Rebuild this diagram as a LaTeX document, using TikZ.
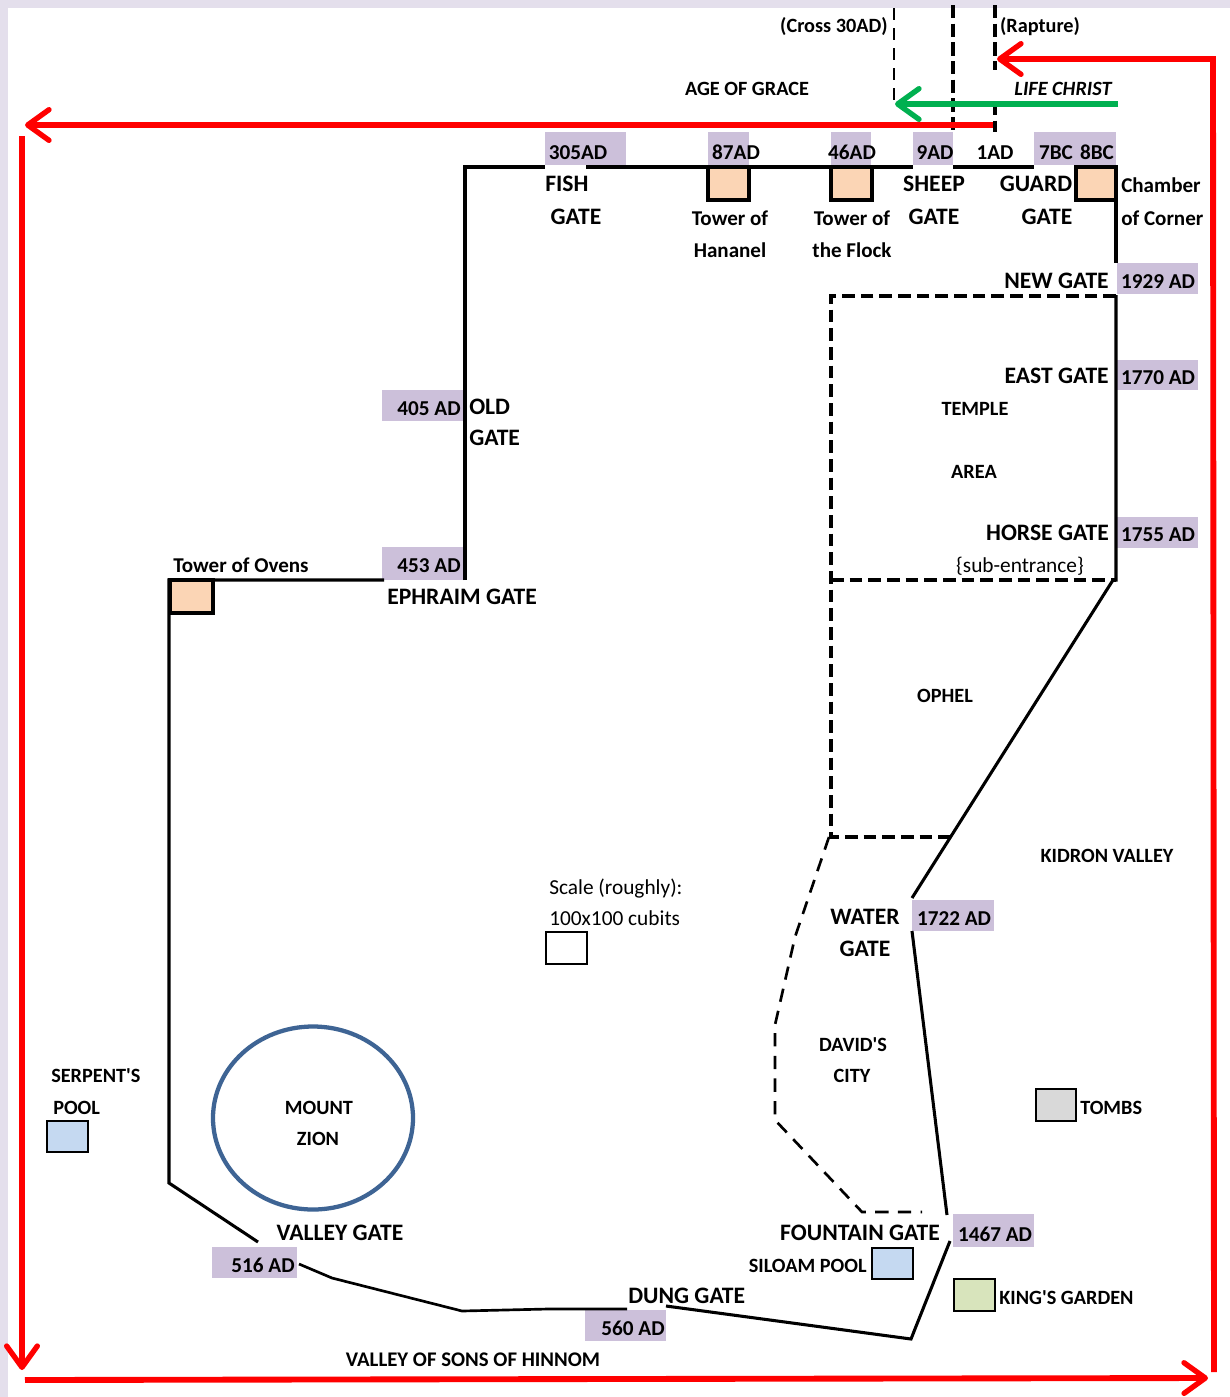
\documentclass[tikz,border=0pt]{standalone}
\usepackage{fontspec}
\setmainfont[Ligatures=TeXOff]{Carlito}
\usetikzlibrary{arrows.meta}
\definecolor{lav}{HTML}{CCC0DA}
\definecolor{edge}{HTML}{E4DFEC}
\definecolor{tan}{HTML}{FBD5B5}
\definecolor{pool}{HTML}{C5D9F1}
\definecolor{garden}{HTML}{D8E4BC}
\definecolor{tomb}{HTML}{D9D9D9}
\definecolor{mount}{HTML}{3E6494}
\definecolor{grn}{HTML}{00B050}
\tikzset{
  wall/.style={black,line width=2.3pt,line join=miter},
  thinwall/.style={black,line width=2pt},
  dash wall/.style={black,line width=2.4pt,dash pattern=on 9.5pt off 4.5pt},
  dash thin/.style={black,line width=2pt,dash pattern=on 10pt off 7pt},
  red run/.style={red,line width=4.4pt,line join=miter},
  barb/.style={-{Straight Barb[length=16pt,width=23pt,line width=4pt,round]}},
  gatebox/.style={fill=lav,draw=none},
  txt/.style={text=black,inner sep=0pt,yshift=-2.4pt},
  big/.style={txt,font=\bfseries\fontsize{17.7}{18}\selectfont},
  med/.style={txt,font=\bfseries\fontsize{15.9}{16}\selectfont},
  small/.style={txt,font=\bfseries\fontsize{15.2}{16}\selectfont},
  tname/.style={txt,font=\bfseries\fontsize{15.8}{16}\selectfont},
  plain/.style={txt,font=\fontsize{16}{16}\selectfont},
  towerbox/.style={fill=tan,draw=black,line width=2.6pt},
  markbox/.style={draw=black,line width=1.5pt},
}
\begin{document}
\begin{tikzpicture}[x=0.75pt,y=-0.75pt]
\useasboundingbox (0,0) rectangle (1230,1397);
\fill[edge] (0,0) rectangle (1230,1397);
\fill[white] (8,8) rectangle (1230,1397);
% gate boxes
\foreach \a/\b/\c/\d in {545/132/626/165,708/132/749/165,831/132/871/165,913/132/953/165,1034/132/1116/165,
  1117/263/1198/294,1117/360/1198/390,1117/517/1198/548,382/390/464/421,382/547/464/580,
  912/900/994/931,953/1214/1034/1247,585/1310/666/1341,212/1247/297/1278}
  \fill[gatebox] (\a,\b) rectangle (\c,\d);
% walls
\draw[wall] (384,580) -- (169,580) -- (169,1183) -- (258,1242);
\draw[wall] (465,580) -- (465,167) -- (545,167);
\draw[wall] (586,167) -- (913,167);
\draw[wall] (953,167) -- (1034,167);
\draw[wall] (1116,200) -- (1116,263);
\draw[wall] (1116,295) -- (1116,580) -- (1113,580) -- (912,898);
\draw[wall] (912,931) -- (947,1215);
\draw[wall] (950,1241) -- (911,1339) -- (666,1306);
\draw[thinwall] (627,1309) -- (548,1309) -- (462,1311) -- (332,1278) -- (299,1264);
% towers
\draw[towerbox] (708,167) rectangle (749,200);
\draw[towerbox] (831,167) rectangle (872,200);
\draw[towerbox] (1076,167) rectangle (1116,200);
\draw[towerbox] (170,580) rectangle (213,613);
% dashed
\draw[dash wall] (1116,296) -- (831,296) -- (831,837) -- (953,837);
\draw[dash wall] (831,580) -- (1116,580);
\draw[dash thin] (829,837) -- (795,937) -- (775,1025) -- (775,1120) -- (862,1212) -- (922,1212);
\draw[black,line width=2.2pt,dash pattern=on 9pt off 6pt] (894,8) -- (894,104);
\draw[black,line width=3pt,dash pattern=on 10pt off 4pt] (953,5) -- (953,132);
\draw[black,line width=2.8pt,dash pattern=on 10pt off 4pt] (995,5) -- (995,70);
\draw[black,line width=2.8pt,dash pattern=on 10pt off 4pt] (995,102) -- (995,132);
% small boxes
\draw[markbox,fill=white] (546,932) rectangle (587,964);
\draw[markbox,fill=pool] (47,1121) rectangle (88,1152);
\draw[markbox,fill=pool] (872,1248) rectangle (913,1279);
\draw[markbox,fill=garden] (954,1279) rectangle (995,1311);
\draw[markbox,fill=tomb] (1036,1089) rectangle (1076,1121);
% circle
\draw[mount,line width=3.2pt] (313,1118) ellipse [x radius=100,y radius=91.5];
% red and green runs
\coordinate (rA) at (1214,1372); \coordinate (rB) at (1213,59); \coordinate (rC) at (997,59);
\draw[red run,barb] (rA) -- (rB) -- (rC);
\coordinate (rD) at (993,125); \coordinate (rE) at (25,125);
\draw[red run,barb] (rD) -- (rE);
\coordinate (rF) at (22,136); \coordinate (rG) at (22,1370);
\draw[red run,barb] (rF) -- (rG);
\coordinate (rH) at (25,1380); \coordinate (rI) at (1208,1378);
\draw[red run,barb] (rH) -- (rI);
\coordinate (gA) at (1118,104); \coordinate (gB) at (895,104);
\draw[grn,line width=4.4pt,barb] (gA) -- (gB);
% dates
\node[med,anchor=mid] (d305) at (578,153) {305AD};
\node[med,anchor=mid] (d87) at (736,153) {87AD};
\node[med,anchor=mid] (d46) at (852,153) {46AD};
\node[med,anchor=mid] (d9) at (935,153) {9AD};
\node[med,anchor=mid] (d1) at (995,153) {1AD};
\node[med,anchor=mid] (d7) at (1056,153) {7BC};
\node[med,anchor=mid] (d8) at (1097,153) {8BC};
\node[med,anchor=mid] (d1929) at (1158,282) {1929 AD};
\node[med,anchor=mid] (d1770) at (1158,378) {1770 AD};
\node[med,anchor=mid] (d1755) at (1158,535) {1755 AD};
\node[med,anchor=mid] (d405) at (429,409) {405 AD};
\node[med,anchor=mid] (d453) at (429,566) {453 AD};
\node[med,anchor=mid] (d1722) at (954,919) {1722 AD};
\node[med,anchor=mid] (d1467) at (995,1235) {1467 AD};
\node[med,anchor=mid] (d560) at (633,1329) {560 AD};
\node[med,anchor=mid] (d516) at (263,1266) {516 AD};
% top labels
\node[small,anchor=mid] (tCross) at (834,26) {(Cross 30AD)};
\node[small,anchor=mid] (tRapt) at (1040,26) {(Rapture)};
\node[small,anchor=mid] (tAge) at (747,89) {AGE OF GRACE};
\node[small,anchor=mid,font=\bfseries\itshape\fontsize{15.2}{16}\selectfont] (tLife) at (1063,89) {LIFE CHRIST};
% gate names
\node[big,anchor=mid west] (nFish1) at (545,185) {FISH};
\node[big,anchor=mid] (nFish2) at (576,218) {GATE};
\node[big,anchor=mid] (nSheep1) at (934,185) {SHEEP};
\node[big,anchor=mid] (nSheep2) at (934,218) {GATE};
\node[big,anchor=mid] (nGuard1) at (1036,185) {GUARD};
\node[big,anchor=mid] (nGuard2) at (1047,218) {GATE};
\node[big,anchor=mid east] (nNew) at (1109,282) {NEW GATE};
\node[big,anchor=mid east] (nEast) at (1109,377) {EAST GATE};
\node[big,anchor=mid east] (nHorse) at (1109,534) {HORSE GATE};
\node[big,anchor=mid west] (nOld1) at (469,408) {OLD};
\node[big,anchor=mid west] (nOld2) at (469,439) {GATE};
\node[big,anchor=mid west] (nEph) at (387,598) {EPHRAIM GATE};
\node[big,anchor=mid] (nWater1) at (865,918) {WATER};
\node[big,anchor=mid] (nWater2) at (865,950) {GATE};
\node[big,anchor=mid] (nFount) at (860,1234) {FOUNTAIN GATE};
\node[big,anchor=mid west] (nDung) at (628,1297) {DUNG GATE};
\node[big,anchor=mid] (nValley) at (340,1234) {VALLEY GATE};
% tower names
\node[tname,anchor=mid] (tHan1) at (730,219) {Tower of};
\node[tname,anchor=mid] (tHan2) at (730,251) {Hananel};
\node[tname,anchor=mid] (tFlk1) at (852,219) {Tower of};
\node[tname,anchor=mid] (tFlk2) at (852,251) {the Flock};
\node[tname,anchor=mid west] (tCh1) at (1121,186) {Chamber};
\node[tname,anchor=mid west] (tCh2) at (1121,219) {of Corner};
\node[tname,anchor=mid west] (tOv) at (173,566) {Tower of Ovens};
% areas
\node[small,anchor=mid] (aTemple) at (975,409) {TEMPLE};
\node[small,anchor=mid] (aArea) at (974,472) {AREA};
\node[plain,anchor=mid] (aSub) at (1020,566) {\{sub-entrance\}};
\node[small,anchor=mid] (aOphel) at (945,696) {OPHEL};
\node[small,anchor=mid] (aKidron) at (1107,856) {KIDRON VALLEY};
\node[plain,anchor=mid west] (aScale1) at (549,888) {Scale (roughly):};
\node[plain,anchor=mid west] (aScale2) at (549,919) {100x100 cubits};
\node[small,anchor=mid] (aDavid1) at (853,1045) {DAVID'S};
\node[small,anchor=mid] (aDavid2) at (852,1076) {CITY};
\node[small,anchor=mid west] (aTomb) at (1080,1108) {TOMBS};
\node[small,anchor=mid] (aMount1) at (319,1108) {MOUNT};
\node[small,anchor=mid] (aMount2) at (318,1139) {ZION};
\node[small,anchor=mid west] (aSerp) at (51,1076) {SERPENT'S};
\node[small,anchor=mid west] (aPool) at (53,1108) {POOL};
\node[small,anchor=mid east] (aSil) at (867,1266) {SILOAM POOL};
\node[small,anchor=mid west] (aKing) at (999,1298) {KING'S GARDEN};
\node[txt,anchor=mid,font=\bfseries\fontsize{15.6}{16}\selectfont] (aHin) at (473,1360) {VALLEY OF SONS OF HINNOM};
\end{tikzpicture}
\end{document}
